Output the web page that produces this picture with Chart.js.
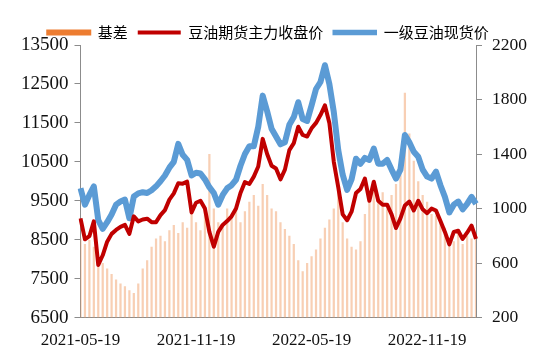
<!DOCTYPE html>
<html>
<head>
<meta charset="utf-8">
<script src="https://cdn.jsdelivr.net/npm/chart.js@4.4.1/dist/chart.umd.min.js"></script>
<style>
  html, body { margin: 0; padding: 0; background: #fff; }
  #wrap { width: 550px; height: 360px; }
</style>
</head>
<body>
<div id="wrap"><canvas id="chart" width="550" height="360"></canvas></div>
<script>
// Soybean oil: futures close, spot price and basis, weekly readings
const seriesNames = ['基差', '豆油期货主力收盘价', '一级豆油现货价'];
const xTickLabels = ['2021-05-19', '2021-11-19', '2022-05-19', '2022-11-19'];
const leftTicks = { min: 6500, max: 13500, step: 1000 };
const rightTicks = { min: 200, max: 2200, step: 400 };

// 豆油期货主力收盘价 (left axis)
const futures = [
  9050, 8510, 8590, 8970, 7850, 8100, 8450, 8650, 8750, 8830,
  8880, 8650, 9100, 8970, 9020, 9040, 8950, 8950, 9130, 9260,
  9530, 9690, 9950, 9940, 9990, 9200, 9450, 9500, 9300, 8700,
  8320, 8700, 8880, 8980, 9100, 9300, 9700, 9980, 9930, 10120,
  10380, 11090, 10700, 10400, 10330, 10050, 10300, 10800, 10980, 11400,
  11190, 11150, 11360, 11500, 11700, 11950, 11500, 10500, 9850, 9150,
  9000, 9220, 9700, 9800, 10070, 9500, 9990, 9500, 9400, 9400,
  9150, 8800, 9050, 9380, 9480, 9250, 9500, 9280, 9180, 9300,
  9250, 8980, 8700, 8380, 8700, 8730, 8520, 8680, 8860, 8520
];

// 一级豆油现货价 (left axis)
const spot = [
  9820, 9400, 9650, 9870, 9000, 8780, 8950, 9150, 9400, 9480,
  9530, 9050, 9610, 9690, 9720, 9700, 9770, 9870, 10000, 10150,
  10350, 10500, 10960, 10680, 10550, 10150, 10220, 10200, 10050, 9850,
  9700, 9400, 9650, 9820, 9900, 10040, 10400, 10700, 10900, 10900,
  11400, 12200, 11800, 11350, 11150, 10950, 11000, 11450, 11650, 12030,
  11600, 11550, 11950, 12370, 12550, 12980, 12500, 11780, 10800, 10170,
  9780, 10050, 10580, 10450, 10600, 10550, 10840, 10450, 10450, 10550,
  10300, 10070, 10300, 11190, 11000, 10760, 10630, 10300, 10120, 10070,
  10250, 9900, 9600, 9200, 9400, 9480, 9280, 9420, 9600, 9420
];

// 基差 (right axis)
const basis = [
  780, 740, 770, 720, 650, 600, 560, 520, 480, 450,
  430, 400, 380, 450, 560, 620, 720, 780, 800, 760,
  840, 880, 820, 900, 860, 960, 900, 840, 980, 1400,
  1000, 900, 880, 1000, 950, 1020, 900, 980, 1050, 1100,
  1020, 1180, 1100, 1000, 980, 900, 850, 800, 740, 620,
  540, 600, 650, 700, 780, 860, 920, 1000, 1150, 900,
  780, 720, 700, 760, 960, 1120, 1200, 1050, 1120, 1000,
  1100, 1180, 1250, 1850, 1550, 1350, 1200, 1100, 1050, 960,
  950, 900, 860, 780, 760, 820, 740, 800, 780, 820
];

// weekly dates starting 2021-05-19
const dates = futures.map((_, i) => {
  const d = new Date(Date.UTC(2021, 4, 19 + 7 * i));
  return d.toISOString().slice(0, 10);
});

const DAY = 864e5;
function tickFor(index) {
  const t = Date.parse(dates[index]);
  const hit = xTickLabels.find(s => Math.abs(Date.parse(s) - t) <= 3.5 * DAY);
  return hit || '';
}

// move the legend a bit down and left, like the original
const legendNudge = {
  id: 'legendNudge',
  afterLayout(chart) {
    const lg = chart.legend;
    lg.top += 5;
    lg.bottom += 5;
    lg.left -= 8;
    lg.right -= 8;
  },
};

const axisGray = '#8c8c8c';
const serif = "'Liberation Serif', 'Times New Roman', serif";

const ctx = document.getElementById('chart');
new Chart(ctx, {
  data: {
    labels: dates,
    datasets: [
      {
        type: 'bar',
        label: seriesNames[0],
        data: basis,
        yAxisID: 'y1',
        backgroundColor: 'rgba(241,160,105,0.5)',
        borderWidth: 0,
        barPercentage: 0.5,
        categoryPercentage: 1,
        order: 3,
      },
      {
        type: 'line',
        label: seriesNames[1],
        data: futures,
        yAxisID: 'y',
        borderColor: '#C00000',
        backgroundColor: '#C00000',
        borderWidth: 4,
        pointRadius: 0,
        tension: 0,
        borderJoinStyle: 'round',
        order: 1,
      },
      {
        type: 'line',
        label: seriesNames[2],
        data: spot,
        yAxisID: 'y',
        borderColor: '#5B9BD5',
        backgroundColor: '#5B9BD5',
        borderWidth: 6,
        pointRadius: 0,
        tension: 0,
        borderJoinStyle: 'round',
        order: 2,
      },
    ],
  },
  plugins: [legendNudge],
  options: {
    responsive: false,
    animation: false,
    layout: { padding: { left: 15, right: 13, top: 10, bottom: 4 } },
    plugins: {
      tooltip: { enabled: false },
      legend: {
        position: 'top',
        labels: {
          boxWidth: 43,
          boxHeight: 4,
          padding: 10,
          color: '#222',
          font: { family: "'Noto Sans CJK SC', sans-serif", size: 15 },
          generateLabels: chart => chart.data.datasets.map((ds, i) => ({
            text: ds.label,
            fillStyle: i === 0 ? '#ED7D31' : ds.borderColor,
            strokeStyle: i === 0 ? '#ED7D31' : ds.borderColor,
            lineWidth: i === 0 ? 2 : (i === 2 ? 1.5 : 0),
            hidden: false,
            datasetIndex: i,
          })),
        },
      },
    },
    scales: {
      x: {
        type: 'category',
        offset: false,
        grid: { display: false },
        border: { display: true, color: axisGray, width: 1 },
        ticks: {
          autoSkip: false,
          maxRotation: 0,
          padding: 5,
          color: '#111',
          font: { family: serif, size: 17 },
          callback: (v, i) => tickFor(i),
        },
      },
      y: {
        position: 'left',
        min: leftTicks.min,
        max: leftTicks.max,
        grid: { drawOnChartArea: false, drawTicks: true, tickLength: 6, color: axisGray },
        border: { display: true, color: axisGray, width: 1 },
        ticks: {
          stepSize: leftTicks.step,
          padding: 6,
          color: '#111',
          font: { family: serif, size: 19 },
          callback: v => String(v),
        },
      },
      y1: {
        position: 'right',
        min: rightTicks.min,
        max: rightTicks.max,
        grid: { drawOnChartArea: false, drawTicks: true, tickLength: 6, color: axisGray },
        border: { display: true, color: axisGray, width: 1 },
        ticks: {
          stepSize: rightTicks.step,
          padding: 10,
          color: '#111',
          font: { family: serif, size: 17.5 },
          callback: v => String(v),
        },
      },
    },
  },
});
</script>
</body>
</html>
